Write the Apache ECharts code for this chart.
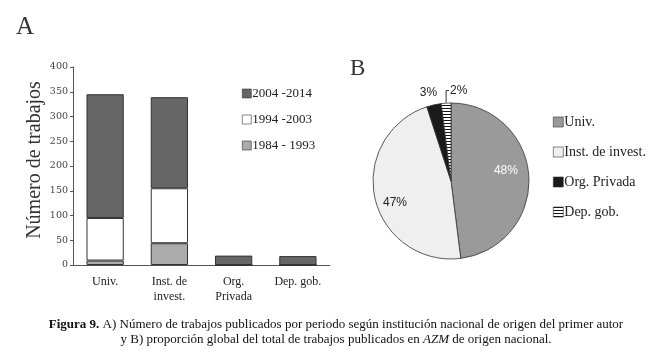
<!DOCTYPE html>
<html>
<head>
<meta charset="utf-8">
<script src="https://cdn.jsdelivr.net/npm/echarts@6/dist/echarts.min.js"></script>
<style>
  html, body { margin: 0; padding: 0; background: #fff; }
  #chart { width: 663px; height: 355px; }
</style>
</head>
<body>
<div id="chart"></div>
<script>
  // datos del panel A
  const categories = ['Univ.', 'Inst. de\ninvest.', 'Org.\nPrivada', 'Dep. gob.']
  const periods = ['2004 -2014', '1994 -2003', '1984 - 1993']
  const p1984 = [9, 44, 0, 0]
  const p1994 = [86, 111, 0, 0]
  const p2004 = [250, 184, 19, 18]
  const yTicks = [0, 50, 100, 150, 200, 250, 300, 350, 400]

  // datos del panel B (porcentajes)
  const pieNames = ['Univ.', 'Inst. de invest.', 'Org. Privada', 'Dep. gob.']
  const pieValues = [48, 47, 3, 2]

  const serif = 'Liberation Serif'

  // patrón de rayas horizontales para Dep. gob.
  const stripe = document.createElement('canvas')
  stripe.width = 4
  stripe.height = 3
  const sctx = stripe.getContext('2d')
  sctx.fillStyle = '#fff'
  sctx.fillRect(0, 0, 4, 3)
  sctx.fillStyle = '#111'
  sctx.fillRect(0, 0, 4, 1)

  const pieColors = ['#9a9a9a', '#efefef', '#1a1a1a', { image: stripe, repeat: 'repeat' }]
  const pieLabel = [
    { position: 'inside', color: '#fff', offset: [13, -8] },
    { position: 'inside', color: '#222', offset: [-15, 13] },
    { position: 'outside', color: '#222' },
    { position: 'outside', color: '#222' },
  ]

  const barBorder = { borderColor: '#333', borderWidth: 1 }

  // etiquetas pequeñas encima del sector
  function smallLabels(params) {
    const r = params.rect
    if (params.dataIndex === 2) {
      return { x: r.x + 2, y: r.y - 11, align: 'center', verticalAlign: 'middle' }
    }
    if (params.dataIndex === 3) {
      const cx = r.x + r.width / 2
      const ty = r.y - 12
      return {
        x: cx + 4, y: ty, align: 'left', verticalAlign: 'middle',
        labelLinePoints: [[cx, r.y], [cx, ty], [cx + 3, ty]],
      }
    }
  }

  const chart = echarts.init(document.getElementById('chart'))
  const option = {
    animation: false,
    title: [
      { text: 'A', left: 11, top: 10, textStyle: { fontFamily: serif, fontSize: 25, fontWeight: 'normal', color: '#333' } },
      { text: 'B', left: 345, top: 52, textStyle: { fontFamily: serif, fontSize: 23, fontWeight: 'normal', color: '#333' } },
      {
        text: '{b|Figura 9.} A) Número de trabajos publicados por periodo según institución nacional de origen del primer autor\ny B) proporción global del total de trabajos publicados en {i|AZM} de origen nacional.',
        left: 331,
        top: 312,
        textAlign: 'center',
        textStyle: {
          fontFamily: serif, fontSize: 13, fontWeight: 'normal', color: '#111', lineHeight: 15, align: 'center',
          rich: {
            b: { fontFamily: serif, fontSize: 13, fontWeight: 'bold', color: '#111' },
            i: { fontFamily: serif, fontSize: 13, fontStyle: 'italic', color: '#111' },
          },
        },
      },
    ],
    legend: [
      {
        data: periods,
        orient: 'vertical',
        left: 237,
        top: 82,
        itemWidth: 9,
        itemHeight: 9,
        itemGap: 13,
        icon: 'rect',
        itemStyle: { borderWidth: 0.6 },
        textStyle: { fontFamily: serif, fontSize: 13, color: '#222', padding: [0, 0, 0, -4] },
      },
      {
        data: pieNames,
        orient: 'vertical',
        left: 548,
        top: 110,
        itemWidth: 10,
        itemHeight: 10,
        itemGap: 16,
        icon: 'rect',
        itemStyle: { borderWidth: 0.6 },
        textStyle: { fontFamily: serif, fontSize: 14, color: '#222', padding: [0, 0, 0, -4] },
      },
    ],
    grid: { left: 73, right: 333, top: 67, bottom: 90 },
    xAxis: {
      type: 'category',
      data: categories,
      axisTick: { show: false },
      axisLine: { lineStyle: { color: '#555' } },
      axisLabel: { fontFamily: serif, fontSize: 12, color: '#222', margin: 9, lineHeight: 15 },
    },
    yAxis: {
      type: 'value',
      min: yTicks[0],
      max: yTicks[yTicks.length - 1],
      interval: 50,
      name: 'Número de trabajos',
      nameLocation: 'middle',
      nameGap: 28,
      nameTextStyle: { fontFamily: serif, fontSize: 20, color: '#333', padding: [0, 0, 0, 12] },
      splitLine: { show: false },
      axisLine: { show: true, lineStyle: { color: '#555' } },
      axisTick: { show: true, length: 3, lineStyle: { color: '#555' } },
      axisLabel: { fontFamily: 'DejaVu Serif', fontSize: 9.5, color: '#444', margin: 5 },
    },
    series: [
      { name: periods[2], type: 'bar', stack: 'a', barWidth: '58%', data: p1984, itemStyle: { color: '#ababab', ...barBorder } },
      { name: periods[1], type: 'bar', stack: 'a', data: p1994, itemStyle: { color: '#ffffff', ...barBorder } },
      { name: periods[0], type: 'bar', stack: 'a', data: p2004, itemStyle: { color: '#666666', ...barBorder } },
      {
        name: 'B',
        type: 'pie',
        center: [451, 181],
        radius: 78,
        startAngle: 90,
        clockwise: true,
        avoidLabelOverlap: false,
        itemStyle: { borderColor: '#333', borderWidth: 0.8 },
        label: { formatter: '{d}%', fontFamily: 'Liberation Sans', fontSize: 12 },
        labelLine: { length: 6, length2: 4, lineStyle: { color: '#333', width: 1 } },
        labelLayout: smallLabels,
        data: pieNames.map((n, i) => ({
          name: n,
          value: pieValues[i],
          itemStyle: { color: pieColors[i] },
          label: pieLabel[i],
          labelLine: { show: i === 3 },
        })),
      },
    ],
  }
  chart.setOption(option)
</script>
</body>
</html>
